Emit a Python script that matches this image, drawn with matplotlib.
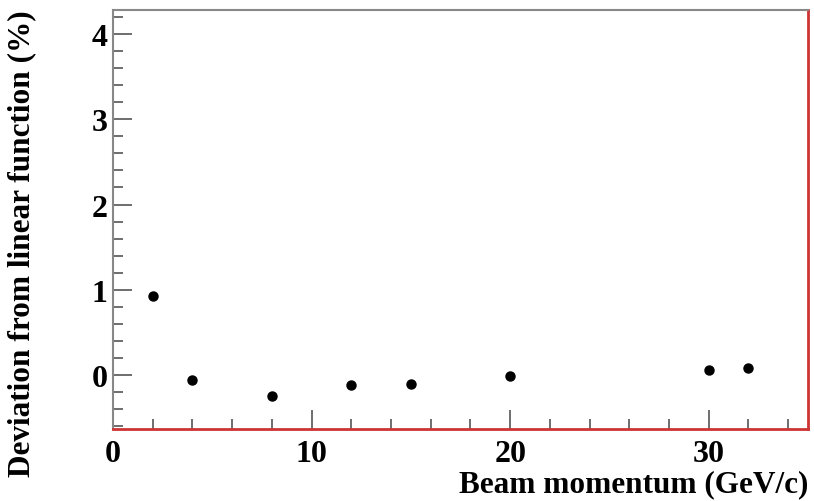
import matplotlib.pyplot as plt
from matplotlib.ticker import MultipleLocator

momentum = [2, 4, 8, 12, 15, 20, 30, 32]
deviation = [0.93, -0.05, -0.24, -0.12, -0.10, -0.01, 0.06, 0.08]

plt.rcParams['font.family'] = 'Liberation Serif'
plt.rcParams['font.weight'] = 'bold'

fig = plt.figure(figsize=(8.14, 5.02), dpi=100)
ax = fig.add_axes([113 / 814, 1 - 430 / 502, 695 / 814, 419 / 502])

ax.plot(momentum, deviation, 'o', color='black', markersize=6.5)

ax.set_xlim(0, 35)
ax.set_ylim(-0.63, 4.28)
ax.xaxis.set_major_locator(MultipleLocator(10))
ax.xaxis.set_minor_locator(MultipleLocator(2))
ax.yaxis.set_major_locator(MultipleLocator(1))
ax.yaxis.set_minor_locator(MultipleLocator(0.2))

ax.tick_params(which='both', direction='in', color='#555555', width=1.2,
               labelsize=23, top=False, right=False)
ax.tick_params(which='major', length=14)
ax.tick_params(which='minor', length=7)
ax.tick_params(axis='x', which='major', pad=7)
ax.tick_params(axis='y', which='major', pad=4)
for lab in ax.get_xticklabels() + ax.get_yticklabels():
    lab.set_fontweight('bold')

for s in ['left', 'top']:
    ax.spines[s].set_color('#888888')
    ax.spines[s].set_linewidth(1.5)
for s in ['right', 'bottom']:
    ax.spines[s].set_color('#cc3333')
    ax.spines[s].set_linewidth(2)

fig.text(808 / 814, 1 - 485 / 502, 'Beam momentum (GeV/c)', ha='right', va='center',
         fontsize=22.5, fontweight='bold')
fig.text(22 / 814, 1 - 10 / 502, 'Deviation from linear function (%)', rotation=90,
         ha='center', va='top', fontsize=22.5, fontweight='bold')

fig.savefig('out.png', dpi=100)
